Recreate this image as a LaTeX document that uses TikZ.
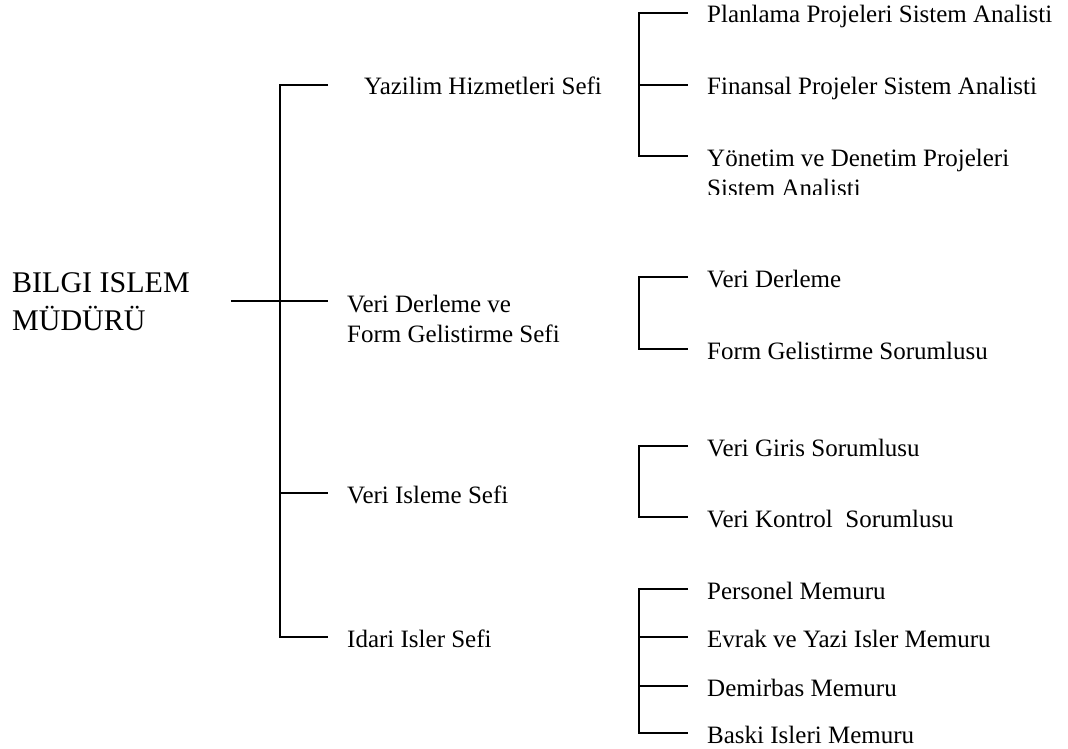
\documentclass[tikz,border=0pt]{standalone}
\usepackage{fontspec}
\setmainfont{Liberation Serif}
\usetikzlibrary{positioning}

\begin{document}
\begin{tikzpicture}[x=1pt,y=-1pt,
		tree/.style={line width=1.4pt},
		lbl/.style={anchor=base west,inner sep=0pt,align=left,font=\rmfamily\fontsize{25}{30}\selectfont}]
			\useasboundingbox (0,0) rectangle (1068,749);
			% mudur (base anchor sits on the last line)
			\node[lbl,font=\rmfamily\fontsize{30}{38}\selectfont] (mudur) at (12,330) {BILGI ISLEM\\MÜDÜRÜ};
			\coordinate (trunk) at (280,301);
			\draw[tree] ([xshift=41pt]mudur.east |- trunk) -- (trunk);
			% sefler
			\coordinate (j1) at (328,85);
			\coordinate (j2) at (328,301);
			\coordinate (j3) at (328,493);
			\coordinate (j4) at (328,637);
			\draw[tree] (j1) -| (trunk |- j4) -- (j4);
			\draw[tree] (trunk) -- (j2);
			\draw[tree] (trunk |- j3) -- (j3);
			\node[lbl] (yazilim) at ([shift={(36,10)}]j1) {Yazilim Hizmetleri Sefi};
			\node[lbl] (derleme) at ([shift={(19,41)}]j2) {Veri Derleme ve\\Form Gelistirme Sefi};
			\node[lbl] (isleme) at ([shift={(19,10)}]j3) {Veri Isleme Sefi};
			\node[lbl] (idari) at ([shift={(19,10)}]j4) {Idari Isler Sefi};
			% yazilim ekibi
			\coordinate (a1) at (688,13);
			\coordinate (a2) at (688,85);
			\coordinate (a3) at (688,156);
			\draw[tree] (a1) -| ([xshift=-49pt]a3) -- (a3);
			\draw[tree] ([xshift=-49pt]a2) -- (a2);
			\node[lbl] (planlama) at ([shift={(19,10)}]a1) {Planlama Projeleri Sistem Analisti};
			\node[lbl] (finansal) at ([shift={(19,10)}]a2) {Finansal Projeler Sistem Analisti};
			\begin{scope}
				\clip (600,0) rectangle (1068,194);
				\node[lbl] (yonetim) at ([shift={(19,40)}]a3) {Yönetim ve Denetim Projeleri\\Sistem Analisti};
			\end{scope}
			% derleme ekibi
			\coordinate (b1) at (688,277);
			\coordinate (b2) at (688,349);
			\draw[tree] (b1) -| ([xshift=-49pt]b2) -- (b2);
			\node[lbl] (verider) at ([shift={(19,10)}]b1) {Veri Derleme};
			\node[lbl] (formgel) at ([shift={(19,10)}]b2) {Form Gelistirme Sorumlusu};
			% isleme ekibi
			\coordinate (c1) at (688,446);
			\coordinate (c2) at (688,517);
			\draw[tree] (c1) -| ([xshift=-49pt]c2) -- (c2);
			\node[lbl] (giris) at ([shift={(19,10)}]c1) {Veri Giris Sorumlusu};
			\node[lbl] (kontrol) at ([shift={(19,10)}]c2) {Veri Kontrol\ \ Sorumlusu};
			% idari ekip
			\foreach \yy [count=\k] in {589,637,686,733}
				\coordinate (d\k) at (688,\yy);
			\draw[tree] (d1) -| ([xshift=-49pt]d4) -- (d4);
			\draw[tree] ([xshift=-49pt]d2) -- (d2);
			\draw[tree] ([xshift=-49pt]d3) -- (d3);
			\node[lbl] (personel) at ([shift={(19,10)}]d1) {Personel Memuru};
			\node[lbl] (evrak) at ([shift={(19,10)}]d2) {Evrak ve Yazi Isler Memuru};
			\node[lbl] (demirbas) at ([shift={(19,10)}]d3) {Demirbas Memuru};
			\node[lbl] (baski) at ([shift={(19,10)}]d4) {Baski Isleri Memuru};
		\end{tikzpicture}
\end{document}
